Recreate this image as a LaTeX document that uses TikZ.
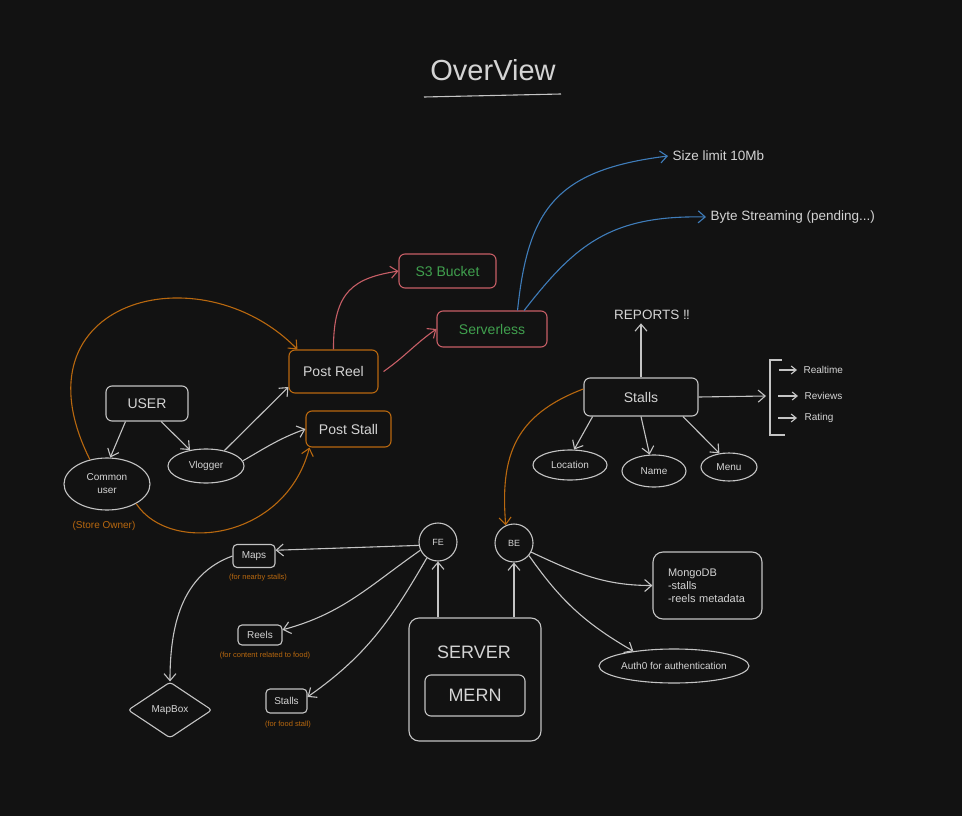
\documentclass[tikz,border=0pt]{standalone}
\usepackage{fontspec}
\setmainfont{Liberation Sans}
\usetikzlibrary{arrows.meta,shapes.geometric}
\definecolor{bg}{HTML}{121212}
\definecolor{ink}{HTML}{C4C4C4}
\definecolor{txt}{HTML}{D4D4D4}
\definecolor{amber}{HTML}{B8680F}
\definecolor{rose}{HTML}{C65E66}
\definecolor{leaf}{HTML}{40A04E}
\definecolor{sky}{HTML}{3F7DBA}
\begin{document}
\begin{tikzpicture}[x=1pt,y=-1pt,line width=1.1pt,
  every node/.style={text=txt,inner sep=0pt},
  fs/.style={font=\fontsize{#1}{#1}\selectfont},
  box/.style={draw=ink,rounded corners=6pt},
  obox/.style={draw=amber,rounded corners=6pt},
  rbox/.style={draw=rose,rounded corners=6pt,text=leaf},
  oval/.style={draw=ink,ellipse},
  note/.style={fs=7.5,text=amber},
  arr/.style={draw=ink,-{Straight Barb[length=7pt,width=12pt]}},
  sarr/.style={draw=ink,-{Straight Barb[length=5pt,width=8pt]}},
  oarr/.style={draw=amber,-{Straight Barb[length=7pt,width=12pt]}},
  rarr/.style={draw=rose,-{Straight Barb[length=7pt,width=12pt]}},
  barr/.style={draw=sky,-{Straight Barb[length=7pt,width=12pt]}}]
\fill[bg] (0,0) rectangle (962,816);
%
\node[fs=29] (title) at (493,70) {OverView};
\draw[ink] (424,97) -- (561,94);
% users
\node[box,fs=14,minimum width=82pt,minimum height=35pt] (user) at (147,403.5) {USER};
\node[oval,align=center,font=\fontsize{10}{13}\selectfont,minimum width=86pt,minimum height=52pt] (cu) at (107,484) {Common\\user};
\node[fs=10,text=amber] (so) at (104,526) {(Store Owner)};
\node[oval,fs=10,minimum width=76pt,minimum height=34pt] (vl) at (206,466) {Vlogger};
\node[obox,fs=14,minimum width=89pt,minimum height=43pt] (pr) at (333.5,371.5) {Post Reel};
\node[obox,fs=14,minimum width=85pt,minimum height=36pt] (ps) at (348.5,429) {Post Stall};
\node[rbox,fs=14,minimum width=97pt,minimum height=34pt] (s3) at (447.5,271) {S3 Bucket};
\node[rbox,fs=14,minimum width=110pt,minimum height=36pt] (sl) at (492,329) {Serverless};
\node[fs=13.5,anchor=west,inner xsep=4pt] (sz) at (668,156) {Size limit 10Mb};
\node[fs=13.5,anchor=west,inner xsep=4pt] (bs) at (706,217) {Byte Streaming (pending...)};
% stalls
\node[fs=13.5,inner sep=3pt] (rp) at (652,315) {REPORTS ‼};
\node[box,fs=14,minimum width=114pt,minimum height=38pt] (st) at (641,397) {Stalls};
\node[oval,fs=10,minimum width=74pt,minimum height=30pt] (lo) at (570,465) {Location};
\node[oval,fs=10,minimum width=64pt,minimum height=32pt] (na) at (654,471) {Name};
\node[oval,fs=10,minimum width=56pt,minimum height=28pt] (me) at (729,467) {Menu};
\draw[ink] (782,360) -- (770,360) -- (770,435) -- (785,435);
\coordinate (br) at (766,396);
\node[fs=10,anchor=west] (rt) at (803,370) {Realtime};
\node[fs=10,anchor=west] (rv) at (804,396) {Reviews};
\node[fs=10,anchor=west] (rg) at (804,418) {Rating};
% front end / back end
\node[draw=ink,circle,fs=9,minimum size=38pt] (fe) at (438,542) {FE};
\node[draw=ink,circle,fs=9,minimum size=38pt] (be) at (514,543) {BE};
\node[box,rounded corners=4pt,fs=10,minimum width=42pt,minimum height=23pt] (maps) at (254,556) {Maps};
\node[note] (mapsn) at (258,578) {(for nearby stalls)};
\node[box,rounded corners=4pt,fs=10,minimum width=44pt,minimum height=20pt] (reels) at (260,635) {Reels};
\node[note] (reelsn) at (265,656) {(for content related to food)};
\node[box,rounded corners=4pt,fs=10,minimum width=41pt,minimum height=24pt] (sm) at (286.5,701) {Stalls};
\node[note] (smn) at (288,725) {(for food stall)};
\node[draw=ink,diamond,rounded corners=3pt,fs=10,minimum width=84pt,minimum height=56pt] (mb) at (170,710) {MapBox};
\node[box,rounded corners=10pt,minimum width=132pt,minimum height=123pt] (sv) at (475,679.5) {};
\node[fs=18] (svt) at (474,652) {SERVER};
\node[box,fs=18,minimum width=100pt,minimum height=41pt] (mern) at (475,695.5) {MERN};
\node[box,rounded corners=10pt,align=left,text width=79pt,font=\fontsize{11}{13}\selectfont,minimum width=109pt,minimum height=67pt] (mg) at (707.5,585.5) {MongoDB\\-stalls\\-reels metadata};
\node[oval,fs=10,minimum width=150pt,minimum height=34pt] (au) at (674,666) {Auth0 for authentication};
%
\draw[arr] (user.220) -- (cu.83);
\draw[arr] (user.-52) -- (vl.135);
\draw[arr] (vl.40) -- (pr.199);
\draw[arr] (vl.8) to[out=30,in=200] (ps.west);
\draw[oarr] (cu.125) .. controls (10,300) and (200,250) .. ([xshift=9pt]pr.north west);
\draw[oarr] (cu.-34) .. controls (170,555) and (285,540) .. ([xshift=4pt]ps.south west);
\draw[rarr] (pr.north) .. controls (333,290) and (355,278) .. (s3.west);
\draw[rarr] ([xshift=5pt]pr.east) to[out=35,in=215] (sl.west);
\draw[barr] (sl.36) .. controls (528,210) and (555,170) .. (sz.west);
\draw[barr] (sl.30) .. controls (575,245) and (610,215) .. (bs.west);
%
\draw[arr] (st.north) -- (st.north |- rp.south);
\draw[arr] (st.east) -- (br);
\draw[arr] (st.202) -- (lo.75);
\draw[arr] (st.south) -- (na.105);
\draw[arr] (st.-25) -- (me.125);
\draw[sarr] ([xshift=-24pt]rt.west) -- ([xshift=-6pt]rt.west);
\draw[sarr] ([xshift=-26pt]rv.west) -- ([xshift=-6pt]rv.west);
\draw[sarr] ([xshift=-26pt]rg.west) -- ([xshift=-7pt]rg.west);
\draw[oarr] (st.172) .. controls (515,415) and (500,455) .. (be.115);
%
\draw[arr] (fe.190) -- (maps.15);
\draw[arr] (fe.205) to[out=215,in=15] (reels.13);
\draw[arr] (fe.235) to[out=240,in=35] (sm.11);
\draw[arr] (maps.west) to[out=200,in=90] (mb.north);
\draw[arr] (sv.north -| fe) -- (fe.south);
\draw[arr] (sv.north -| be) -- (be.south);
\draw[arr] (be.-28) to[out=-25,in=180] (mg.west);
\draw[arr] (be.-40) to[out=-55,in=150] (au.160);
\end{tikzpicture}
\end{document}
